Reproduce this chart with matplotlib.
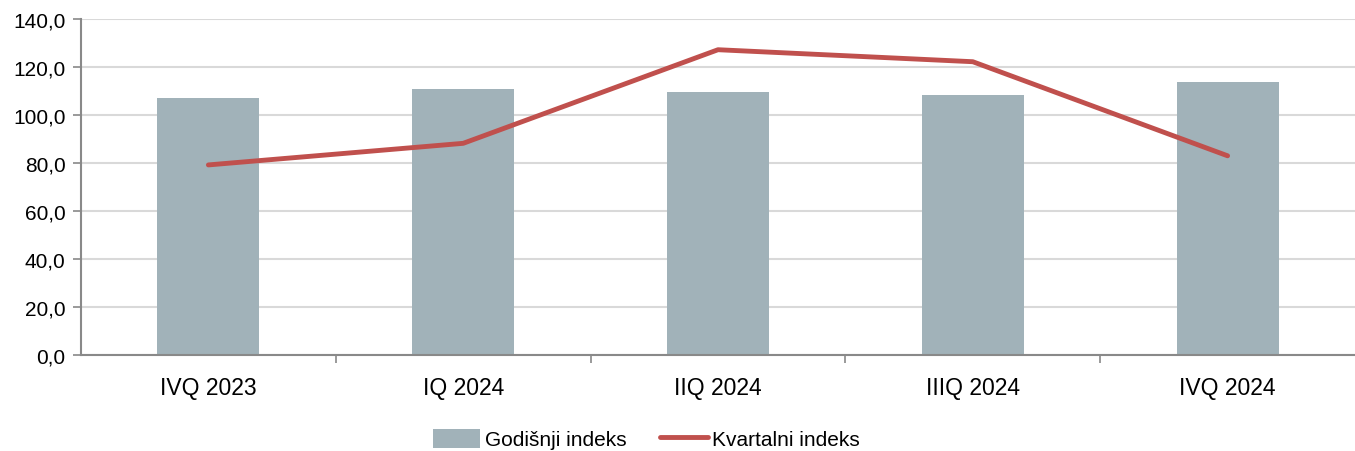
import matplotlib
matplotlib.use("Agg")
import matplotlib.pyplot as plt
from matplotlib.ticker import FuncFormatter, MultipleLocator
from matplotlib.patches import Patch
from matplotlib.lines import Line2D
import numpy as np

categories = ["IVQ 2023", "IQ 2024", "IIQ 2024", "IIIQ 2024", "IVQ 2024"]
godisnji = [107.1, 110.8, 109.7, 108.5, 113.8]
kvartalni = [79.2, 88.2, 127.2, 122.2, 83.0]

plt.rcParams['font.family'] = ['Liberation Sans', 'DejaVu Sans']

fig = plt.figure(figsize=(13.55, 4.52), dpi=100)
ax = fig.add_axes([81/1355, 1-356/452, 1-81/1355, (356-20)/452])

x = np.arange(len(categories))
bar_color = "#A1B2B9"
line_color = "#C0504D"
ax.bar(x, godisnji, width=0.4, color=bar_color, zorder=2)
ax.plot(x, kvartalni, color=line_color, lw=3.5, solid_capstyle="round", zorder=3)

ax.set_xlim(-0.5, len(categories) - 0.5)
ax.set_ylim(0, 140)
ax.yaxis.set_major_locator(MultipleLocator(20))
ax.yaxis.set_major_formatter(FuncFormatter(lambda v, p: f"{v:.1f}".replace(".", ",")))
ax.grid(axis="y", color="#D9D9D9", lw=1.5, zorder=0)
ax.set_axisbelow(True)

for s in ["top", "right"]:
    ax.spines[s].set_visible(False)
for s in ["left", "bottom"]:
    ax.spines[s].set_color("#898989")
    ax.spines[s].set_linewidth(1.5)

ax.set_xticks(x)
ax.set_xticklabels(categories)
ax.set_xticks(np.arange(0.5, len(categories) - 0.5, 1), minor=True)
ax.tick_params(axis="x", which="major", length=0, pad=15, labelsize=16.5)
ax.tick_params(axis="x", which="minor", length=6, color="#898989", width=1.2)
ax.tick_params(axis="y", length=6, color="#898989", width=1.2, labelsize=15, pad=5)

handles = [Patch(facecolor=bar_color, edgecolor="none"),
           Line2D([0], [0], color=line_color, lw=3.5, solid_capstyle="round")]
labels = ["Godišnji indeks", "Kvartalni indeks"]
fig.legend(handles, labels, loc="lower center", bbox_to_anchor=(646/1355, -0.038), ncol=2, frameon=False,
           fontsize=15, handlelength=2.3, handleheight=1.0, handletextpad=0.2, columnspacing=1.6)

fig.savefig("out.png", dpi=100)
